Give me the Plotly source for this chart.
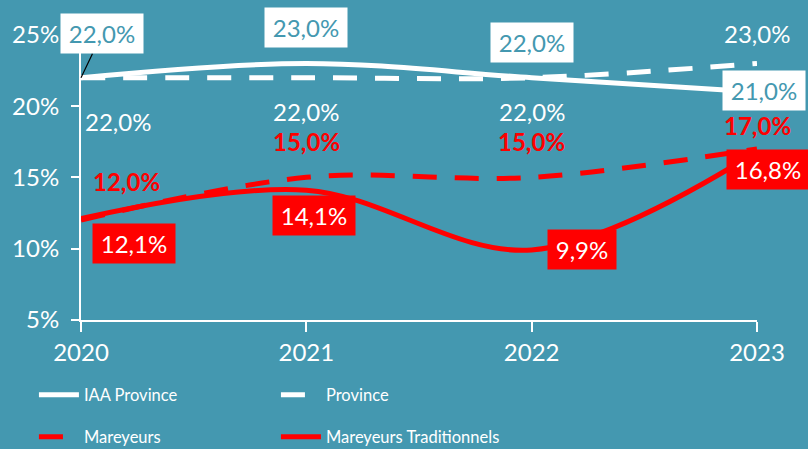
import plotly.graph_objects as go

years = [2020, 2021, 2022, 2023]
iaa_province = [22.0, 23.0, 22.0, 21.0]
province = [22.0, 22.0, 22.0, 23.0]
mareyeurs = [12.0, 15.0, 15.0, 17.0]
mareyeurs_trad = [12.1, 14.1, 9.9, 16.8]
y_ticks = [5, 10, 15, 20, 25]

BG = "#4498B0"
RED = "#FF0000"
WHITE = "#FFFFFF"
FONT = "Lato"
FS = 24


def fmt(v):
    return f"{v:.1f}".replace(".", ",") + "%"


fig = go.Figure()
fig.add_trace(go.Scatter(x=years, y=iaa_province, name="IAA Province", mode="lines",
                         line=dict(color=WHITE, width=5, shape="spline"), legend="legend"))
fig.add_trace(go.Scatter(x=years, y=province, name="Province", mode="lines",
                         line=dict(color=WHITE, width=5, shape="spline", dash="24px,18px"), legend="legend"))
fig.add_trace(go.Scatter(x=years, y=mareyeurs, name="Mareyeurs", mode="lines",
                         line=dict(color=RED, width=5, shape="spline", dash="24px,18px"), legend="legend2"))
fig.add_trace(go.Scatter(x=years, y=mareyeurs_trad, name="Mareyeurs Traditionnels", mode="lines",
                         line=dict(color=RED, width=5, shape="spline"), legend="legend2"))

annotations = []
# IAA Province labels: white boxes, teal text
iaa_off = [(21, -44), (0, -36), (0, -35), (7, -1)]
for i, (x, v) in enumerate(zip(years, iaa_province)):
    dx, dy = iaa_off[i]
    a = dict(x=x, y=v, xref="x", yref="y", text=fmt(v), bgcolor=WHITE, borderpad=5, width=72,
             font=dict(family=FONT, size=FS, color=BG))
    if i == 0:
        a.update(showarrow=True, ax=dx, ay=dy, arrowhead=0, arrowwidth=1.2, arrowcolor="black")
    else:
        a.update(showarrow=False, xshift=dx, yshift=-dy)
    annotations.append(a)

# Province labels: plain white text
prov_off = [(37, 44), (0, 34), (0, 34), (0, -30)]
for i, (x, v) in enumerate(zip(years, province)):
    dx, dy = prov_off[i]
    annotations.append(dict(x=x, y=v, xref="x", yref="y", text=fmt(v), showarrow=False,
                            xshift=dx, yshift=-dy, font=dict(family=FONT, size=FS, color=WHITE)))

# Mareyeurs labels: bold red text
mar_off = [(45, -39), (0, -36), (0, -36), (0, -23)]
for i, (x, v) in enumerate(zip(years, mareyeurs)):
    dx, dy = mar_off[i]
    annotations.append(dict(x=x, y=v, xref="x", yref="y", text="<b>" + fmt(v) + "</b>", showarrow=False,
                            xshift=dx, yshift=-dy, font=dict(family=FONT, size=FS, color=RED)))

# Mareyeurs Traditionnels labels: red boxes, white text
trad_off = [(53, 25), (8, 25), (50, 0), (11, 18)]
trad_w = [72, 72, 58, 72]
for i, (x, v) in enumerate(zip(years, mareyeurs_trad)):
    dx, dy = trad_off[i]
    annotations.append(dict(x=x, y=v, xref="x", yref="y", text=fmt(v), showarrow=False,
                            xshift=dx, yshift=-dy, bgcolor=RED, borderpad=5, width=trad_w[i],
                            font=dict(family=FONT, size=FS, color=WHITE)))

legend_common = dict(orientation="h", xref="container", yref="container", x=0.042,
                     xanchor="left", yanchor="middle", entrywidth=187, entrywidthmode="pixels",
                     font=dict(family=FONT, size=16.5, color=WHITE),
                     bgcolor="rgba(0,0,0,0)", itemwidth=40)

fig.update_layout(
    width=808, height=449,
    paper_bgcolor=BG, plot_bgcolor=BG,
    margin=dict(l=80, r=51, t=35, b=126),
    font=dict(family=FONT, size=FS, color=WHITE),
    showlegend=True,
    legend=dict(legend_common, y=(449 - 395) / 449),
    legend2=dict(legend_common, y=(449 - 437) / 449),
    annotations=annotations,
    xaxis=dict(range=[2020, 2023], tickvals=years, ticktext=[str(y) for y in years],
               showgrid=False, zeroline=False, showline=True, linecolor=WHITE, linewidth=2,
               ticks="outside", ticklen=10, tickwidth=2, tickcolor=WHITE,
               tickfont=dict(family=FONT, size=FS, color=WHITE)),
    yaxis=dict(range=[5, 25], tickvals=y_ticks, ticktext=[f"{t}%" for t in y_ticks],
               showgrid=False, zeroline=False, showline=True, linecolor=WHITE, linewidth=2,
               ticks="outside", ticklen=8, tickwidth=2, tickcolor=WHITE, ticklabelstandoff=7,
               tickfont=dict(family=FONT, size=FS, color=WHITE)),
)

fig.write_html("out.html", config={"displayModeBar": False},
               post_script="document.body.style.margin='0px';")
